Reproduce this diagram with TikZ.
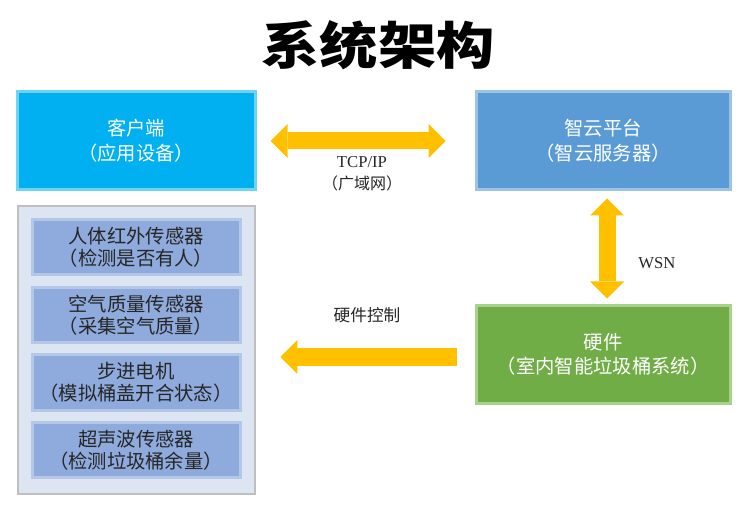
\documentclass[tikz,border=0pt]{standalone}
\usepackage{fontspec}
\setmainfont{Liberation Serif}
\newfontfamily\cjk{Noto Sans CJK SC}
\usetikzlibrary{calc,arrows.meta}
\definecolor{cyanbox}{HTML}{00B0F0}
\definecolor{cyanedge}{HTML}{6FD3F7}
\definecolor{bluebox}{HTML}{5B9BD5}
\definecolor{blueedge}{HTML}{9DC3E6}
\definecolor{greenbox}{HTML}{70AD47}
\definecolor{greenedge}{HTML}{A9D18E}
\definecolor{panelfill}{HTML}{DDE4F2}
\definecolor{paneledge}{HTML}{BFBFBF}
\definecolor{sensorfill}{HTML}{8FAADC}
\definecolor{sensoredge}{HTML}{B4C7E7}
\definecolor{arrowcol}{HTML}{FFC000}
\definecolor{darktext}{HTML}{262626}
\tikzset{
  mainbox/.style={rectangle, line width=2.25pt, minimum height=73.5pt,
    text=white, align=center, font=\cjk\fontsize{14.5pt}{18.75pt}\selectfont, inner sep=0pt},
  panelbox/.style={rectangle, draw=paneledge, fill=panelfill, line width=2pt,
    minimum width=177.75pt, minimum height=216pt, inner sep=0pt},
  sensorbox/.style={rectangle, draw=sensoredge, fill=sensorfill, line width=2.25pt,
    minimum width=156pt, minimum height=41.25pt, inner sep=0pt, text=darktext,
    align=center, font=\cjk\fontsize{14.5pt}{16.75pt}\selectfont},
  bigtip/.tip={Triangle[length=12.75pt,width=25.5pt,line width=0pt]},
  blockarrow/.style={draw=arrowcol, line width=12.75pt, bigtip-bigtip},
  blockarrowleft/.style={draw=arrowcol, line width=13pt, -bigtip},
  lbl/.style={text=darktext, inner sep=0pt},
}
\begin{document}
\begin{tikzpicture}[x=0.75pt,y=-0.75pt]
\useasboundingbox (0,0) rectangle (750,520);
% title
\node[transform shape, xscale=1.15, inner sep=0pt, font=\cjk\bfseries\fontsize{38pt}{40pt}\selectfont] (title) at (378,45) {系统架构};
% main boxes
\node[mainbox, draw=cyanedge, fill=cyanbox, minimum width=178.5pt] (client) at (136,141) {客户端\\（应用设备）};
\node[mainbox, draw=blueedge, fill=bluebox, minimum width=190.5pt] (cloud) at (603,141) {智云平台\\（智云服务器）};
\node[mainbox, draw=greenedge, fill=greenbox, minimum width=190.5pt, minimum height=72.75pt,
  font=\cjk\fontsize{14.5pt}{18pt}\selectfont] (hw) at (603,354.5) {硬件\\（室内智能垃圾桶系统）};
% sensor panel
\node[panelbox] (panel) at (136.5,350) {};
\node[sensorbox] (s1) at (136,247.5) {人体红外传感器\\（检测是否有人）};
\node[sensorbox] (s2) at (136,315) {空气质量传感器\\（采集空气质量）};
\node[sensorbox] (s3) at (136,382.5) {步进电机\\（模拟桶盖开合状态）};
\node[sensorbox] (s4) at (136,450) {超声波传感器\\（检测垃圾桶余量）};
% arrows
\draw[blockarrow] ($(client.east)+(14,0)$) -- ($(cloud.west)+(-29,0)$);
\draw[blockarrow] ($(cloud.south)+(4,7)$) -- ($(hw.north)+(4,-6)$);
\coordinate (lstart) at ($(hw.west)+(-18,2.5)$);
\draw[blockarrowleft] (lstart) -- ($(lstart -| panel.east)+(24,0)$);
% labels
\node[lbl, font=\fontsize{12.5pt}{14pt}\selectfont] (tcp) at (362,162) {TCP/IP};
\node[lbl, font=\cjk\fontsize{12pt}{14pt}\selectfont] (wan) at (362,183) {（广域网）};
\node[lbl, font=\fontsize{12.5pt}{14pt}\selectfont] (wsn) at (657,263) {WSN};
\node[lbl, font=\cjk\fontsize{12.5pt}{14pt}\selectfont] (ctrl) at (367,315) {硬件控制};
\end{tikzpicture}
\end{document}
